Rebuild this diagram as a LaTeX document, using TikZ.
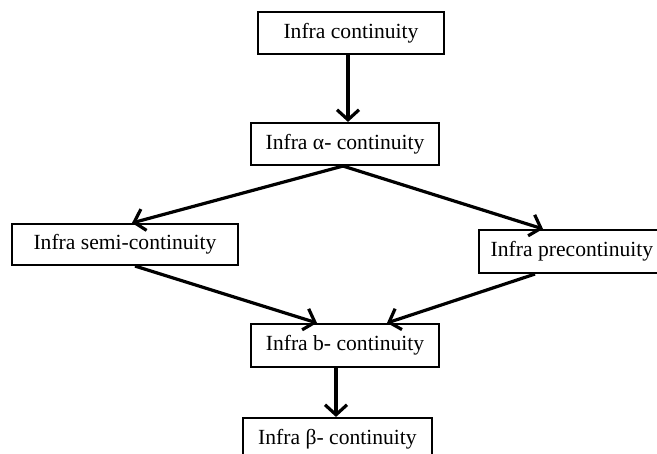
\documentclass[tikz,border=0pt]{standalone}
\usepackage{fontspec}
\setmainfont{Liberation Serif}
\usetikzlibrary{arrows.meta,calc}
\begin{document}
\begin{tikzpicture}[x=1pt,y=-1pt,
  box/.style={draw=black,line width=2.1pt,fill=white,inner sep=0pt,anchor=center,
    font=\fontsize{21.6}{25}\selectfont},
  conn/.style={line width=3.2pt,-{Straight Barb[length=10pt,width=22pt]}}]
\useasboundingbox (0,0) rectangle (657,454);
\clip (0,0) rectangle (657,454);
\node[box,minimum width=186pt,minimum height=42pt] (b1) at (351,33) {Infra continuity};
\node[box,minimum width=188pt,minimum height=42pt] (b2) at (345,144) {Infra α- continuity};
\node[box,minimum width=226pt,minimum height=41pt] (b3) at (125,244.5) {Infra semi-continuity};
\node[box,minimum width=186pt,minimum height=43pt] (b4) at (572,251.5) {Infra precontinuity};
\node[box,minimum width=188pt,minimum height=43pt] (b5) at (345,345.5) {Infra b- continuity};
\node[box,minimum width=189pt,minimum height=43pt] (b6) at (337.5,439.5) {Infra β- continuity};
\draw[conn] ([xshift=-3pt]b1.south) -- ([xshift=3pt]b2.north);
\draw[conn] ([xshift=-2pt]b2.south) -- ([xshift=7pt]b3.north);
\draw[conn] ([xshift=-2pt]b2.south) -- ([xshift=-29pt]b4.north);
\draw[conn] ([xshift=10pt]b3.south) -- ([xshift=-28pt]b5.north);
\draw[conn] ([xshift=-37pt]b4.south) -- ([xshift=42pt]b5.north);
\draw[conn] ([xshift=-9pt]b5.south) -- ([xshift=-1.5pt]b6.north);
\end{tikzpicture}
\end{document}
